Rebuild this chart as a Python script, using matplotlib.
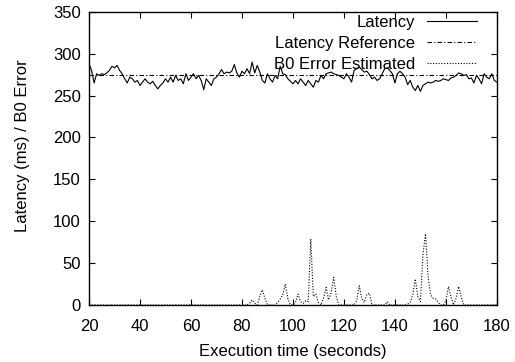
import matplotlib
matplotlib.use("Agg")
import matplotlib.pyplot as plt
import numpy as np

plt.rcParams['font.family'] = ['Liberation Sans', 'DejaVu Sans']

time_s = list(range(20, 181))
latency = [
    288, 280, 265, 276, 274, 276, 275, 277, 280, 285,
    283, 286, 280, 276, 270, 265, 272, 270, 266, 268,
    262, 266, 270, 266, 264, 267, 262, 258, 262, 265,
    270, 266, 272, 266, 274, 268, 270, 264, 276, 268,
    272, 276, 270, 274, 268, 257, 270, 266, 262, 270,
    272, 276, 281, 276, 278, 277, 279, 287, 277, 272,
    279, 276, 282, 276, 290, 277, 286, 278, 268, 265,
    276, 270, 266, 274, 270, 285, 276, 275, 270, 267,
    264, 268, 264, 270, 266, 262, 268, 264, 260, 268,
    266, 274, 270, 276, 277, 278, 276, 275, 274, 272,
    270, 276, 272, 266, 280, 282, 284, 281, 278, 279,
    275, 270, 272, 268, 270, 276, 282, 283, 280, 276,
    265, 276, 279, 276, 272, 263, 268, 260, 256, 262,
    255, 262, 264, 266, 265, 266, 268, 267, 268, 270,
    269, 268, 271, 272, 274, 277, 276, 274, 275, 270,
    271, 265, 274, 270, 264, 276, 272, 270, 276, 268,
    266,
]
latency_ref = [275] * len(time_s)
b0_error = (
    [0] * 63 +  # t = 20 .. 82
    [2, 6, 2, 0, 10, 18, 8, 0, 0, 0,          # 83-92
     0, 3, 7, 12, 25, 8, 0, 0, 3, 13,         # 93-102
     4, 2, 5, 4, 79, 10, 13, 3, 0, 8,         # 103-112
     21, 6, 15, 33, 10, 0, 0, 0, 0, 0,        # 113-122
     0, 0, 5, 23, 8, 3, 13, 14, 0, 0,         # 123-132
     0, 0, 0, 0, 4, 0, 0, 0, 0, 0,            # 133-142
     0, 0, 1, 3, 12, 31, 10, 4, 60, 85,       # 143-152
     35, 12, 8, 7, 3, 0, 0, 5, 22, 10,        # 153-162
     0, 8, 22, 10, 0] +                       # 163-167
    [0] * 13                                  # 168-180
)

fig = plt.figure(figsize=(5.15, 3.62), dpi=100)
ax = fig.add_axes([0.1728, 0.1575, 0.792, 0.81])

ax.plot(time_s, latency, color='black', lw=0.8, label='Latency')
ax.plot(time_s, latency_ref, color='black', lw=0.8, linestyle=(0, (4, 2, 1, 2)),
        label='Latency Reference')
ax.plot(time_s, b0_error, color='black', lw=0.8, linestyle=(0, (1, 1.5)),
        label='B0 Error Estimated')

ax.set_xlim(20, 180)
ax.set_ylim(0, 350)
ax.set_xticks(range(20, 181, 20))
ax.set_yticks(range(0, 351, 50))
ax.tick_params(direction='in', length=4, width=0.8, top=True, right=True,
               labelsize=12)
ax.tick_params(axis='x', pad=10)
ax.tick_params(axis='y', pad=6)
for s in ax.spines.values():
    s.set_linewidth(1.0)
    s.set_zorder(5)

ax.set_xlabel('Execution time (seconds)', fontsize=12, labelpad=7)
ax.set_ylabel('Latency (ms) / B0 Error', fontsize=12, va='center')
ax.yaxis.set_label_coords(-0.164, 0.543)

leg = ax.legend(loc='upper right', bbox_to_anchor=(0.951, 0.99),
                frameon=False, markerfirst=False,
                fontsize=12, handlelength=3.0, handletextpad=0.7,
                labelspacing=0.36, borderaxespad=0.0, borderpad=0.0)

fig.savefig('out.png', dpi=100)
